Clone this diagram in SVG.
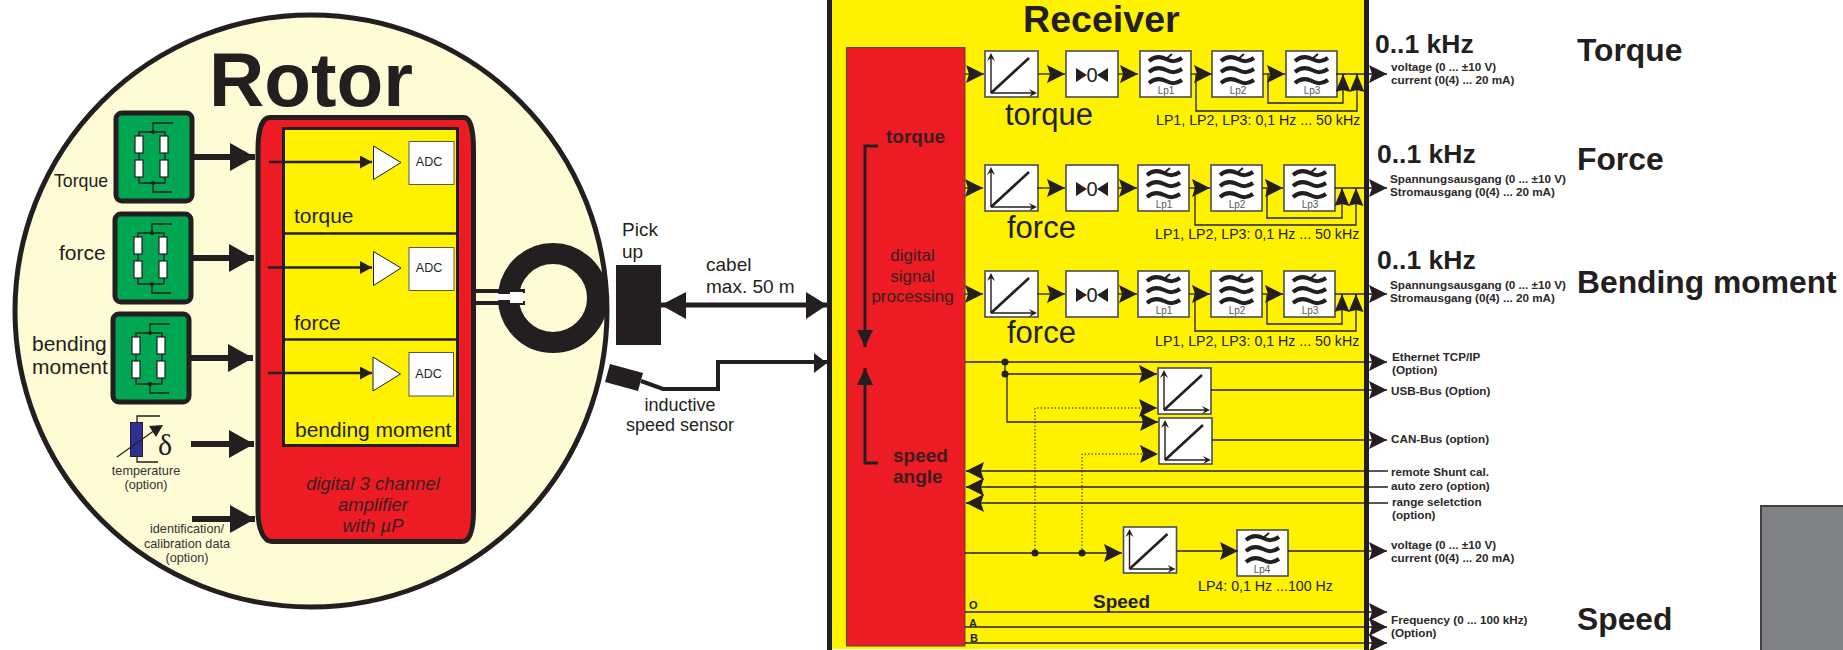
<svg xmlns="http://www.w3.org/2000/svg" xmlns:xlink="http://www.w3.org/1999/xlink" width="1843" height="650" viewBox="0 0 1843 650">
<style>
text{font-family:"Liberation Sans",Arial,sans-serif;fill:#231f20}
.b{font-weight:700}
.s11{font-size:11.7px;font-weight:700;fill:#2b2829}
.big{font-size:31.800px;font-weight:700}
.khz{font-size:26.500px;font-weight:700}
.lp{font-size:14.200px}
.lab21{font-size:21px}
.lab31{font-size:31px}
.lab13{font-size:12.7px;fill:#333}
.lab19{font-size:19px}
.dspt{fill:#3b1d20}
.m{text-anchor:middle}
.wire{fill:none;stroke:#231f20;stroke-width:1.3}
.wh{fill:none;stroke:#231f20;stroke-width:1.3;marker-end:url(#h)}
.up{fill:none;stroke:#231f20;stroke-width:1.3;marker-end:url(#hup)}
.fat{fill:none;stroke:#231f20;stroke-width:6;marker-end:url(#hb)}
.mid{fill:none;stroke:#231f20;stroke-width:2.5;marker-end:url(#hs)}
.dot{fill:none;stroke:#231f20;stroke-width:1;stroke-dasharray:1.5 2;marker-end:url(#h)}
.vert{fill:none;stroke:#231f20;stroke-width:3;marker-end:url(#hv)}
.j{fill:#231f20}
.blk{fill:#fff;stroke:#4d4d4f;stroke-width:1.6}
.grn{fill:#00a651;stroke:#231f20;stroke-width:5}
.res{fill:#fff;stroke:#231f20;stroke-width:1.2}
.thin{fill:none;stroke:#231f20;stroke-width:1.3}
.lpt{font-size:10px;fill:#58595b;text-anchor:middle}
.adc{fill:#fff;stroke:#58595b;stroke-width:1}
.amp{fill:#fff;stroke:#231f20;stroke-width:1}
</style>
<defs>
<marker id="h" markerUnits="userSpaceOnUse" markerWidth="18" markerHeight="18" refX="18" refY="9" orient="auto"><path d="M0,0L18,9L0,18L3,9z" fill="#231f20"/></marker>
<marker id="hup" markerUnits="userSpaceOnUse" markerWidth="18" markerHeight="15" refX="18" refY="7.5" orient="auto"><path d="M0,0L18,7.5L0,15L2,7.5z" fill="#231f20"/></marker>
<marker id="hb" markerUnits="userSpaceOnUse" markerWidth="25" markerHeight="28" refX="25" refY="14" orient="auto"><path d="M0,0L25,14L0,28z" fill="#231f20"/></marker>
<marker id="hs" markerUnits="userSpaceOnUse" markerWidth="12" markerHeight="13" refX="12" refY="6.5" orient="auto"><path d="M0,0L12,6.5L0,13z" fill="#231f20"/></marker>
<marker id="hv" markerUnits="userSpaceOnUse" markerWidth="17" markerHeight="16" refX="17" refY="8" orient="auto"><path d="M0,0L17,8L0,16z" fill="#231f20"/></marker>
<g id="bridge">
<path class="thin" d="M39,21H25V72H51V21H39V12H59M39,72V81H58"/>
<circle class="j" cx="39" cy="21" r="2"/><circle class="j" cx="39" cy="72" r="2"/>
<rect class="res" x="21" y="25" width="8" height="17"/><rect class="res" x="21" y="49" width="8" height="17"/>
<rect class="res" x="46" y="25" width="8" height="17"/><rect class="res" x="46" y="49" width="8" height="17"/>
</g>
<g id="scale">
<rect class="blk" x="0" y="0" width="53" height="46"/>
<path d="M6,42V5M6,42H49" fill="none" stroke="#231f20" stroke-width="1.4"/>
<path d="M6,42L44,7" fill="none" stroke="#231f20" stroke-width="2.6"/>
<path d="M2,10L6,2L10,10L6,7zM44,38L52,42L44,46L47,42z" fill="#231f20"/>
</g>
<g id="zero">
<rect class="blk" x="0" y="0" width="52" height="46"/>
<path d="M10,17V31L21,24zM42,17V31L31,24z" fill="#231f20"/>
</g>
<g id="filt">
<rect class="blk" x="0" y="0" width="51" height="46"/>
<path d="M9,10C15,5 20,5 26,8S36,11 42,7M9,21C15,16 20,16 26,19S36,22 42,18M9,32C15,27 20,27 26,30S36,33 42,29" fill="none" stroke="#231f20" stroke-width="4"/>
<path d="M26,8L32,3" fill="none" stroke="#231f20" stroke-width="2"/>
</g>
</defs>

<g id="rotor">
<circle cx="311" cy="311" r="296" fill="#fffbd5" stroke="#231f20" stroke-width="5"/>
<text x="209" y="106" font-size="76.500" class="b">Rotor</text>
</g>

<g id="amplifier">
<path d="M270,117.5H464C470,117.5 473.5,130 473.5,150V510C473.5,530 470,541.5 462,541.5H272C264,541.5 258,530 258,510V150C258,130 262,117.5 270,117.5Z" fill="#ed1c24" stroke="#231f20" stroke-width="5"/>
<rect x="283.5" y="128.5" width="174" height="317" fill="#fff200" stroke="#231f20" stroke-width="3"/>
<path d="M283,233.5H458M283,339.5H458" stroke="#231f20" stroke-width="2.5"/>
<text x="294" y="223" class="lab21">torque</text>
<text x="294" y="330" class="lab21">force</text>
<text x="295" y="437" class="lab21">bending moment</text>
<text x="373" y="490" class="m dspt" font-size="18.500" font-style="italic">digital 3 channel</text>
<text x="373" y="511" class="m dspt" font-size="18.500" font-style="italic">amplifier</text>
<text x="373" y="532" class="m dspt" font-size="18.500" font-style="italic">with µP</text>
</g>

<g id="adc-torque"><path class="amp" d="M373.5,146V179.5L401,162.5z"/><rect class="adc" x="409" y="141.500" width="45" height="43"/><text x="429" y="166" class="m" font-size="12.500">ADC</text></g>
<g id="adc-force"><path class="amp" d="M373.500,251.500V285.500L401,268z"/><rect class="adc" x="409" y="247.500" width="45" height="43"/><text x="429" y="272" class="m" font-size="12.500">ADC</text></g>
<g id="adc-bending"><path class="amp" d="M373,357V391L400.500,374z"/><rect class="adc" x="409" y="352.500" width="44.500" height="43.500"/><text x="428.500" y="378" class="m" font-size="12.500">ADC</text></g>

<g id="sensor-torque"><rect class="grn" x="116" y="113" width="76" height="88" rx="6"/><use xlink:href="#bridge" href="#bridge" x="114" y="111"/><text x="54" y="187" font-size="17.700" fill="#333">Torque</text></g>
<g id="sensor-force"><rect class="grn" x="115" y="214" width="76" height="88" rx="6"/><use xlink:href="#bridge" href="#bridge" x="113" y="212"/><text x="59" y="260" class="lab21">force</text></g>
<g id="sensor-bending"><rect class="grn" x="113" y="314" width="76" height="88" rx="6"/><use xlink:href="#bridge" href="#bridge" x="111" y="312"/><text x="32" y="351" class="lab21">bending</text><text x="32" y="374" class="lab21">moment</text></g>

<g id="temperature">
<path class="thin" d="M137,422V416H160M137,456V462H158"/>
<rect x="130.500" y="422.500" width="12" height="34" fill="#2e3192" stroke="#231f20"/>
<path d="M117,457L155,430" fill="none" stroke="#231f20" stroke-width="1.200"/>
<path d="M149,426L163,425L156,437z" fill="#231f20"/>
<text x="158" y="455" font-size="30" style="font-family:'Liberation Serif',serif">δ</text>
<text x="146" y="475" class="m lab13">temperature</text>
<text x="146" y="489" class="m lab13">(option)</text>
</g>
<g id="identification">
<text x="187" y="533" class="m lab13">identification/</text>
<text x="187" y="548" class="m lab13">calibration data</text>
<text x="187" y="562" class="m lab13">(option)</text>
</g>

<g id="coupling">
<path d="M474,291H525M474,303H525" stroke="#231f20" stroke-width="4"/>
<circle cx="553" cy="298" r="44.500" fill="none" stroke="#231f20" stroke-width="21"/>
<path d="M495,294H510V292H523V303H510V300H495z" fill="#fff"/>
</g>
<g id="pickup">
<rect x="616" y="265" width="45" height="80" fill="#231f20"/>
<text x="622" y="236" class="lab19">Pick</text>
<text x="622" y="258" class="lab19">up</text>
</g>
<g id="speed-sensor">
<path d="M610,364L643,373L638,391L605,382z" fill="#231f20"/>
<text x="680" y="411" class="m" font-size="18">inductive</text>
<text x="680" y="431" class="m" font-size="18">speed sensor</text>
</g>
<g id="cable-label">
<text x="706" y="271" class="lab19">cabel</text>
<text x="706" y="293" class="lab19">max. 50 m</text>
</g>

<g id="receiver">
<rect x="829.500" y="-10" width="537" height="659" fill="#fff200"/>
<path d="M829.500,0V650M1366.500,0V650" stroke="#231f20" stroke-width="5"/>
<text x="1023" y="32" font-size="37.600" class="b">Receiver</text>
</g>
<g id="dsp">
<rect x="846.500" y="47.500" width="118.500" height="598.500" fill="#ed1c24" stroke="#4d4d2a" stroke-width="1"/>
<text x="886" y="143" font-size="19" class="b dspt">torque</text>
<text x="912.500" y="261" class="m dspt" font-size="17">digital</text>
<text x="912.500" y="282" class="m dspt" font-size="17">signal</text>
<text x="912.500" y="302" class="m dspt" font-size="17">processing</text>
<text x="893" y="462" font-size="19" class="b dspt">speed</text>
<text x="893" y="483" font-size="19" class="b dspt">angle</text>
</g>

<g id="torque-chain">
<use xlink:href="#scale" href="#scale" x="985" y="51"/><use xlink:href="#zero" href="#zero" x="1066" y="51"/>
<text x="1092" y="82" class="m" font-size="20">0</text>
<use xlink:href="#filt" href="#filt" x="1140" y="51"/><text x="1166" y="94" class="lpt">Lp1</text>
<use xlink:href="#filt" href="#filt" x="1212" y="51"/><text x="1238" y="94" class="lpt">Lp2</text>
<use xlink:href="#filt" href="#filt" x="1286" y="51"/><text x="1312" y="94" class="lpt">Lp3</text>
<text x="1005" y="125" class="lab31">torque</text>
<text x="1156" y="125" class="lp">LP1, LP2, LP3: 0,1 Hz ... 50 kHz</text>
<text x="1375" y="53" class="khz">0..1 kHz</text>
<text x="1391" y="71" class="s11">voltage (0 ... ±10 V)</text>
<text x="1391" y="84" class="s11">current (0(4) ... 20 mA)</text>
<text x="1577" y="61" class="big">Torque</text>
</g>
<g id="force-chain">
<use xlink:href="#scale" href="#scale" x="985" y="165"/><use xlink:href="#zero" href="#zero" x="1066" y="165"/>
<text x="1092" y="196" class="m" font-size="20">0</text>
<use xlink:href="#filt" href="#filt" x="1138" y="165"/><text x="1164" y="208" class="lpt">Lp1</text>
<use xlink:href="#filt" href="#filt" x="1211" y="165"/><text x="1237" y="208" class="lpt">Lp2</text>
<use xlink:href="#filt" href="#filt" x="1284" y="165"/><text x="1310" y="208" class="lpt">Lp3</text>
<text x="1007" y="238" class="lab31">force</text>
<text x="1155" y="239" class="lp">LP1, LP2, LP3: 0,1 Hz ... 50 kHz</text>
<text x="1377" y="163" class="khz">0..1 kHz</text>
<text x="1390" y="183" class="s11">Spannungsausgang (0 ... ±10 V)</text>
<text x="1390" y="196" class="s11">Stromausgang (0(4) ... 20 mA)</text>
<text x="1577" y="170" class="big">Force</text>
</g>
<g id="bending-chain">
<use xlink:href="#scale" href="#scale" x="985" y="271"/><use xlink:href="#zero" href="#zero" x="1066" y="271"/>
<text x="1092" y="302" class="m" font-size="20">0</text>
<use xlink:href="#filt" href="#filt" x="1138" y="271"/><text x="1164" y="314" class="lpt">Lp1</text>
<use xlink:href="#filt" href="#filt" x="1211" y="271"/><text x="1237" y="314" class="lpt">Lp2</text>
<use xlink:href="#filt" href="#filt" x="1284" y="271"/><text x="1310" y="314" class="lpt">Lp3</text>
<text x="1007" y="343" class="lab31">force</text>
<text x="1155" y="346" class="lp">LP1, LP2, LP3: 0,1 Hz ... 50 kHz</text>
<text x="1377" y="269" class="khz">0..1 kHz</text>
<text x="1390" y="289" class="s11">Spannungsausgang (0 ... ±10 V)</text>
<text x="1390" y="302" class="s11">Stromausgang (0(4) ... 20 mA)</text>
<text x="1577" y="293" class="big">Bending moment</text>
</g>
<g id="bus-converters">
<use xlink:href="#scale" href="#scale" x="1158" y="368"/>
<use xlink:href="#scale" href="#scale" x="1159" y="418"/>
<text x="1392" y="361" class="s11">Ethernet TCP/IP</text>
<text x="1392" y="374" class="s11">(Option)</text>
<text x="1391" y="395" class="s11">USB-Bus (Option)</text>
<text x="1391" y="443" class="s11">CAN-Bus (option)</text>
<text x="1391" y="476" class="s11">remote Shunt cal.</text>
<text x="1391" y="490" class="s11">auto zero (option)</text>
<text x="1392" y="506" class="s11">range seletction</text>
<text x="1392" y="519" class="s11">(option)</text>
</g>
<g id="speed-chain">
<use xlink:href="#scale" href="#scale" x="1123.500" y="527"/>
<use xlink:href="#filt" href="#filt" x="1237" y="530"/><text x="1262" y="573" class="lpt">Lp4</text>
<text x="1198" y="591" class="lp">LP4: 0,1 Hz ...100 Hz</text>
<text x="1093" y="608" font-size="19" class="b">Speed</text>
<text x="969" y="609" font-size="11" class="b">O</text>
<text x="969" y="627" font-size="11" class="b">A</text>
<text x="970" y="642" font-size="11" class="b">B</text>
<text x="1391" y="549" class="s11">voltage (0 ... ±10 V)</text>
<text x="1391" y="562" class="s11">current (0(4) ... 20 mA)</text>
<text x="1391" y="624" class="s11">Frequency (0 ... 100 kHz)</text>
<text x="1391" y="637" class="s11">(Option)</text>
<text x="1577" y="630" class="big">Speed</text>
</g>
<g id="grey-block"><rect x="1761" y="506" width="100" height="160" fill="#808285" stroke="#414042" stroke-width="2"/></g>

<g id="connectors">
<path class="fat" d="M194,157H255"/>
<path class="fat" d="M193,258H254"/>
<path class="fat" d="M190,358H253"/>
<path class="fat" d="M191,444H254"/>
<path class="fat" d="M192,519H255"/>
<path class="mid" d="M269,162H372"/>
<path class="mid" d="M268,267.500H372"/>
<path class="mid" d="M268,373H372"/>
<path d="M661,305H827" stroke="#231f20" stroke-width="5"/>
<path d="M661,305L686,292V319zM827,305L806,292V319z" fill="#231f20"/>
<path d="M641,381L663,389H718V362H827" fill="none" stroke="#231f20" stroke-width="4"/>
<path d="M827,363L814,353V373z" fill="#231f20"/>
<path class="vert" d="M878,146H865V347"/>
<path class="vert" d="M878,463H865V368"/>

<path class="wh" d="M965,74H984"/><path class="wh" d="M1038,74H1065"/><path class="wh" d="M1118,74H1138"/><path class="wh" d="M1191,74H1212"/><path class="wh" d="M1263,74H1285"/><path class="wh" d="M1336,74H1387"/>
<path class="up" d="M1268,74V103H1343V74"/><path class="up" d="M1196,74V111H1357V74"/>
<path class="wh" d="M965,188H983"/><path class="wh" d="M1037,188H1065"/><path class="wh" d="M1118,188H1137"/><path class="wh" d="M1189,188H1210"/><path class="wh" d="M1262,188H1283"/><path class="wh" d="M1335,188H1387"/>
<path class="up" d="M1267,188V218H1342V188"/><path class="up" d="M1195,188V225H1356V188"/>
<path class="wh" d="M965,294H983"/><path class="wh" d="M1037,294H1065"/><path class="wh" d="M1118,294H1137"/><path class="wh" d="M1189,294H1210"/><path class="wh" d="M1262,294H1283"/><path class="wh" d="M1335,294H1387"/>
<path class="up" d="M1267,294V324H1342V294"/><path class="up" d="M1195,294V331H1356V294"/>

<path class="wh" d="M965,362H1387"/>
<path class="wire" d="M1005,362V374"/>
<circle class="j" cx="1005" cy="362" r="3.500"/><circle class="j" cx="1005" cy="374" r="3.500"/>
<path class="wh" d="M1005,374H1157"/>
<path class="wh" d="M1007,374V422H1158"/>
<path class="dot" d="M1035,553V408H1157"/>
<path class="dot" d="M1082,553V454H1158"/>
<path class="wh" d="M1211,390H1387"/>
<path class="wh" d="M1212,440H1387"/>
<path class="wh" d="M1388,471H966"/>
<path class="wh" d="M1388,487H966"/>
<path class="wh" d="M1388,503H966"/>
<path class="wh" d="M965,553H1122"/>
<circle class="j" cx="1035" cy="553" r="3.500"/><circle class="j" cx="1082" cy="553" r="3.500"/>
<path class="wh" d="M1177,551H1238"/>
<path class="wh" d="M1288,551H1387"/>
<path class="wh" d="M965,612H1387"/>
<path class="wh" d="M965,627H1387"/>
<path class="wh" d="M965,643H1387"/>
</g>
</svg>
